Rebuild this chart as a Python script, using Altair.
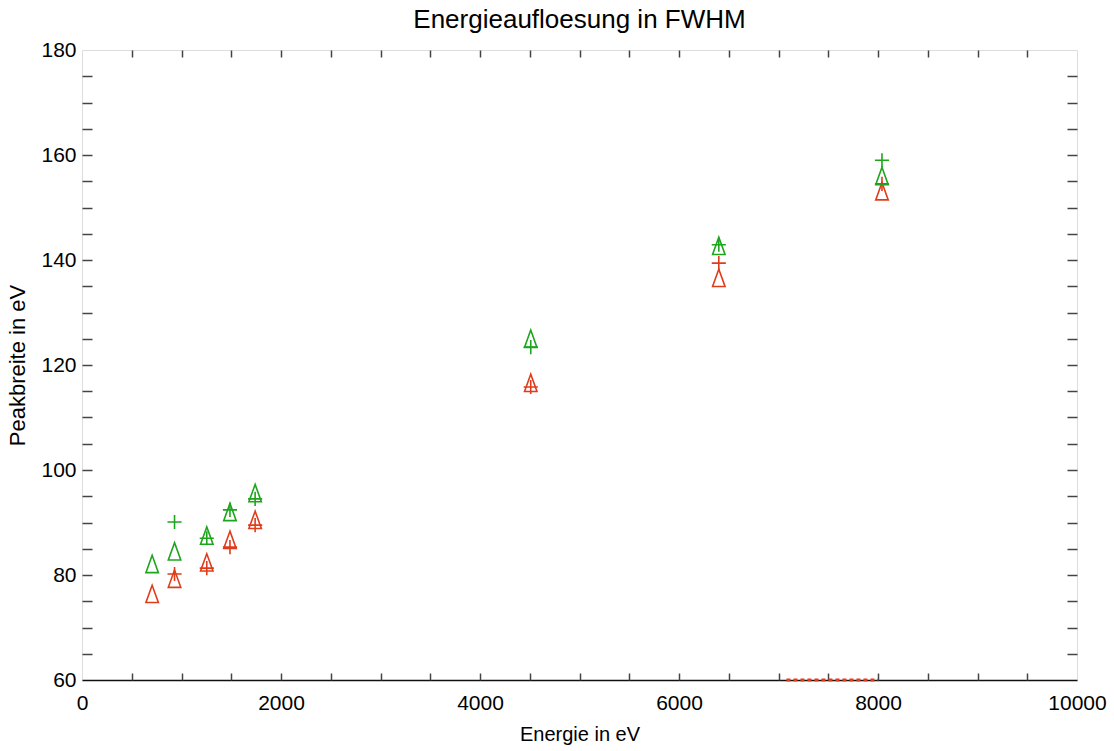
import altair as alt
import pandas as pd

# Line energies (eV) of the measured fluorescence peaks
energy = [705, 930, 1254, 1487, 1740, 4510, 6400, 8040]

# Peak width (FWHM, eV) for the two detector settings and two fit methods
red_triangle = [76.4, 79.3, 82.4, 86.7, 90.5, 116.6, 136.6, 153.1]
red_plus = [None, 80.2, 81.3, 85.3, 89.5, 115.8, 139.4, 154.5]
green_triangle = [82.1, 84.5, 87.5, 92.0, 95.6, 125.0, 142.7, 156.0]
green_plus = [None, 90.1, 87.0, 92.4, 94.5, 123.4, 142.9, 159.0]

# Points that fall below the plotted range, shown along the lower frame
below_range_start = [7080]
below_range_end = [8000]
below_range_level = [60]

RED = "#e03c1c"
GREEN = "#1ea51e"
FONT = "Liberation Sans"

TRIANGLE = "M0,-1L-0.72,1L0.72,1Z"
PLUS = "M-1,0L1,0M0,-1L0,1"

x_domain = [0, 10000]
y_domain = [60, 180]
x_minor = [v for v in range(500, 10000, 500)]
y_minor = [v for v in range(65, 180, 5)]


def series_frame(values):
    return pd.DataFrame({"energy": energy, "width": values}).dropna()


x_scale = alt.Scale(domain=x_domain, nice=False, zero=False)
y_scale = alt.Scale(domain=y_domain, nice=False, zero=False)

# Axes: one with labels, and tick-only axes pulled inside the frame
x_labels = alt.Axis(values=[0, 2000, 4000, 6000, 8000, 10000], format="d", ticks=False,
                    domain=True, domainColor="#111111", domainWidth=1.5, labelFont=FONT,
                    labelFontSize=21, labelColor="#000000", labelPadding=12, grid=False,
                    title="Energie in eV", titleFont=FONT, titleFontSize=20,
                    titleFontWeight="normal", titleColor="#000000", titlePadding=11,
                    labelFlush=False)
y_labels = alt.Axis(values=[60, 80, 100, 120, 140, 160, 180], format="d", ticks=False,
                    domain=False, labelFont=FONT, labelFontSize=21, labelColor="#000000",
                    labelPadding=6, grid=False, title="Peakbreite in eV",
                    titleFont=FONT, titleFontSize=22, titleFontWeight="normal",
                    titleColor="#000000", titlePadding=11, labelFlush=False)


def tick_axis(orient, values, size):
    return alt.Axis(orient=orient, values=values, labels=False, domain=False, grid=False,
                    ticks=True, tickSize=size, offset=-size, tickColor="#444444",
                    tickWidth=1.5, title=None)


def points(values, color, shape, size, x_axis=None, y_axis=None):
    return alt.Chart(series_frame(values)).mark_point(
        shape=shape, filled=False, color=color, strokeWidth=1.6, size=size, opacity=1
    ).encode(
        x=alt.X("energy:Q", scale=x_scale, axis=x_axis),
        y=alt.Y("width:Q", scale=y_scale, axis=y_axis),
    )


red_tri = points(red_triangle, RED, TRIANGLE, 300, x_labels, y_labels)
red_pl = points(red_plus, RED, PLUS, 200,
                tick_axis("bottom", x_minor, 7), tick_axis("left", y_minor, 10))
green_tri = points(green_triangle, GREEN, TRIANGLE, 300,
                   tick_axis("top", x_minor, 7), tick_axis("right", y_minor, 10))
green_pl = points(green_plus, GREEN, PLUS, 200)

below = alt.Chart(pd.DataFrame({
    "start": below_range_start, "end": below_range_end, "level": below_range_level
})).mark_rule(color=RED, strokeWidth=3, strokeDash=[4, 3]).encode(
    x=alt.X("start:Q", scale=x_scale, axis=None),
    x2="end:Q",
    y=alt.Y("level:Q", scale=y_scale, axis=None),
)

chart = alt.layer(red_tri, red_pl, green_tri, green_pl, below).resolve_axis(
    x="independent", y="independent"
).properties(
    width=995,
    height=630,
    autosize="none",
    padding={"left": 82, "top": 50, "right": 37, "bottom": 71},
    title=alt.TitleParams("Energieaufloesung in FWHM", font=FONT, fontSize=26,
                          fontWeight="normal", color="#000000", anchor="middle", offset=6),
).configure_view(
    stroke="#555555", strokeWidth=1.5
).configure(background="white")

chart.save("out.html", embed_options={"renderer": "svg", "actions": False})
